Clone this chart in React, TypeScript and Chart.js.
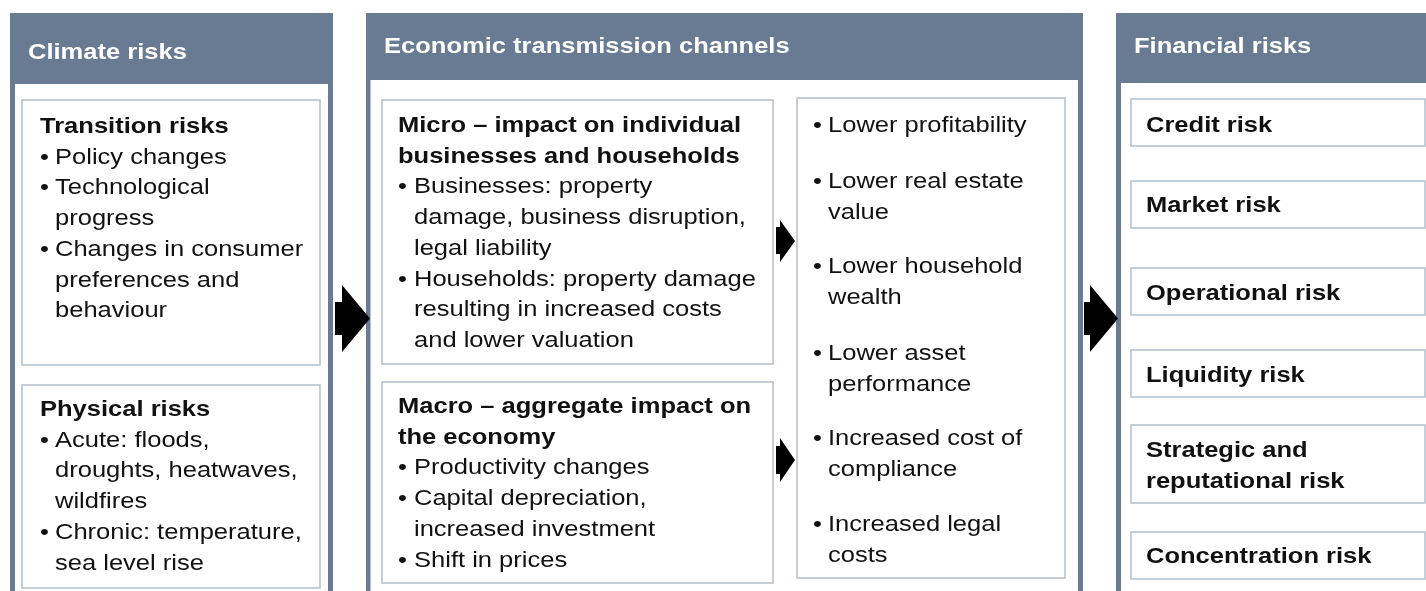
import React, { useEffect, useRef } from "react";
import { Chart, registerables } from "chart.js";

Chart.register(...registerables);

// ---------- content ----------
const HEADERS = ["Climate risks", "Economic transmission channels", "Financial risks"];

const TRANSITION_TITLE = ["Transition risks"];
const TRANSITION_ITEMS = [["Policy changes"], ["Technological", "progress"], ["Changes in consumer", "preferences and", "behaviour"]];

const PHYSICAL_TITLE = ["Physical risks"];
const PHYSICAL_ITEMS = [["Acute: floods,", "droughts, heatwaves,", "wildfires"], ["Chronic: temperature,", "sea level rise"]];

const MICRO_TITLE = ["Micro \u2013 impact on individual", "businesses and households"];
const MICRO_ITEMS = [
  ["Businesses: property", "damage, business disruption,", "legal liability"],
  ["Households: property damage", "resulting in increased costs", "and lower valuation"],
];

const MACRO_TITLE = ["Macro \u2013 aggregate impact on", "the economy"];
const MACRO_ITEMS = [["Productivity changes"], ["Capital depreciation,", "increased investment"], ["Shift in prices"]];

const CHANNEL_ITEMS = [
  ["Lower profitability"],
  ["Lower real estate", "value"],
  ["Lower household", "wealth"],
  ["Lower asset", "performance"],
  ["Increased cost of", "compliance"],
  ["Increased legal", "costs"],
];

const FINANCIAL_RISKS = [["Credit risk"], ["Market risk"], ["Operational risk"], ["Liquidity risk"], ["Strategic and", "reputational risk"], ["Concentration risk"]];

// ---------- layout / style ----------
const FONT = "'Liberation Sans', Arial, sans-serif";
const HEADER_COLOR = "#687b92";
const BOX_BORDER = "#b7c3cf";
const LINE = 30.7;
const STRETCH = 1.16;

const PANELS = [
  { x0: 10, x1: 333, y0: 13, hb: 84, bl: 5, br: 5, tx: 28, ty: 59 },
  { x0: 366, x1: 1083, y0: 13, hb: 80, bl: 4.5, br: 5, tx: 384, ty: 53 },
  { x0: 1116, x1: 1440, y0: 13, hb: 83, bl: 5, br: 5, tx: 1134, ty: 53 },
];

const BOXES = [
  [22, 100, 320, 365],
  [22, 385, 320, 588],
  [382, 100, 773, 364],
  [382, 382, 773, 583],
  [797, 98, 1065, 578],
];
const FIN_BOX_X = [1131, 1425];
const FIN_BOX_Y = [[99, 146], [181, 228], [268, 315], [350, 397], [425, 503], [532, 579]];
const FIN_BASE = [132, 212, 300, 382, 457, 563];
const CHANNEL_BASE = [132, 188, 273, 360, 445, 531];

// arrows: tailX, headX, tipX, tailTop, tailBot, headTop, headBot
const ARROWS = [
  [335, 342, 370, 302, 335, 285, 352],
  [1084, 1090, 1118, 302, 335, 285, 352],
  [776, 780, 795, 227, 254, 220, 262],
  [776, 780, 795, 446, 474, 438, 482],
];

const drawPlugin = {
  id: "diagram",
  afterDraw(chart: any) {
    const ctx: CanvasRenderingContext2D = chart.ctx;
    const xs = chart.scales.x;
    const ys = chart.scales.y;
    const X = (v: number) => xs.getPixelForValue(v);
    const Y = (v: number) => ys.getPixelForValue(v);
    const text = (t: string, x: number, y: number) => {
      ctx.save();
      ctx.translate(X(x), Y(y));
      ctx.scale(STRETCH, 1);
      ctx.fillText(t, 0, 0);
      ctx.restore();
    };
    ctx.save();
    ctx.textBaseline = "alphabetic";

    // panels
    PANELS.forEach((p, i) => {
      ctx.fillStyle = HEADER_COLOR;
      ctx.fillRect(X(p.x0), Y(p.y0), X(p.x1) - X(p.x0), Y(700) - Y(p.y0));
      ctx.fillStyle = "#ffffff";
      ctx.fillRect(X(p.x0 + p.bl), Y(p.hb), X(p.x1 - p.br) - X(p.x0 + p.bl), Y(700) - Y(p.hb));
      ctx.fillStyle = "#ffffff";
      ctx.font = `bold 22px ${FONT}`;
      text(HEADERS[i], p.tx, p.ty);
    });

    // boxes
    ctx.strokeStyle = BOX_BORDER;
    ctx.lineWidth = 1.6;
    BOXES.forEach((b) => {
      ctx.strokeRect(X(b[0]), Y(b[1]), X(b[2]) - X(b[0]), Y(b[3]) - Y(b[1]));
    });
    FIN_BOX_Y.forEach((r) => {
      ctx.strokeRect(X(FIN_BOX_X[0]), Y(r[0]), X(FIN_BOX_X[1]) - X(FIN_BOX_X[0]), Y(r[1]) - Y(r[0]));
    });

    // arrows
    ctx.fillStyle = "#000000";
    ARROWS.forEach((a) => {
      const [tx, hx, tip, tt, tb, ht, hbm] = a;
      const mid = (ht + hbm) / 2;
      ctx.beginPath();
      ctx.moveTo(X(tx), Y(tt));
      ctx.lineTo(X(hx), Y(tt));
      ctx.lineTo(X(hx), Y(ht));
      ctx.lineTo(X(tip), Y(mid));
      ctx.lineTo(X(hx), Y(hbm));
      ctx.lineTo(X(hx), Y(tb));
      ctx.lineTo(X(tx), Y(tb));
      ctx.closePath();
      ctx.fill();
    });

    // text blocks
    ctx.fillStyle = "#111111";
    const block = (title: string[], items: string[][], x: number, base: number, indent: number) => {
      let y = base;
      ctx.font = `bold 22px ${FONT}`;
      title.forEach((t) => {
        text(t, x, y);
        y += LINE;
      });
      ctx.font = `22px ${FONT}`;
      items.forEach((it) => {
        it.forEach((t, j) => {
          if (j === 0) text("\u2022", x, y);
          text(t, x + indent, y);
          y += LINE;
        });
      });
    };
    block(TRANSITION_TITLE, TRANSITION_ITEMS, 40, 133, 15);
    block(PHYSICAL_TITLE, PHYSICAL_ITEMS, 40, 416, 15);
    block(MICRO_TITLE, MICRO_ITEMS, 398, 132, 16);
    block(MACRO_TITLE, MACRO_ITEMS, 398, 413, 16);

    ctx.font = `22px ${FONT}`;
    CHANNEL_ITEMS.forEach((it, i) => {
      it.forEach((t, j) => {
        if (j === 0) text("\u2022", 813, CHANNEL_BASE[i]);
        text(t, 828, CHANNEL_BASE[i] + j * LINE);
      });
    });

    ctx.font = `bold 22px ${FONT}`;
    FINANCIAL_RISKS.forEach((it, i) => {
      it.forEach((t, j) => {
        text(t, 1146, FIN_BASE[i] + j * LINE);
      });
    });
    ctx.restore();
  },
};

export default function App() {
  const ref = useRef<HTMLCanvasElement | null>(null);
  useEffect(() => {
    if (!ref.current) return;
    const chart = new Chart(ref.current, {
      type: "scatter",
      data: { datasets: [] },
      options: {
        animation: false,
        responsive: false,
        maintainAspectRatio: false,
        layout: { padding: 0 },
        plugins: { legend: { display: false }, tooltip: { enabled: false } },
        scales: {
          x: { type: "linear", min: 0, max: 1426, display: false },
          y: { type: "linear", min: 0, max: 591, reverse: true, display: false },
        },
      },
      plugins: [drawPlugin],
    });
    return () => chart.destroy();
  }, []);
  return (
    <div style={{ position: "fixed", left: 0, top: 0, width: 1426, height: 591, background: "#ffffff" }}>
      <canvas ref={ref} width={1426} height={591} style={{ display: "block", width: 1426, height: 591 }} />
    </div>
  );
}
